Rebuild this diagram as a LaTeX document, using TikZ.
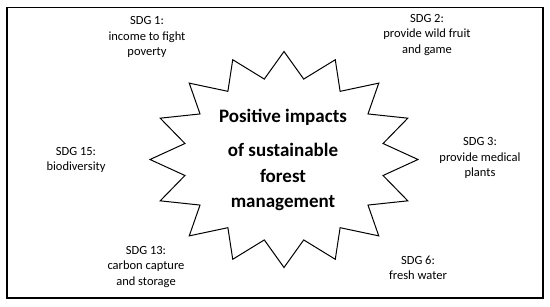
\documentclass[tikz,border=0pt]{standalone}
\usepackage{fontspec}
\setmainfont{Carlito}
\begin{document}
\begin{tikzpicture}[x=1bp,y=-1bp,
  lbl/.style={align=center,inner sep=0pt,font=\fontsize{12.5bp}{15.5bp}\selectfont},
  ctr/.style={align=center,inner sep=0pt,font=\fontsize{19bp}{25.5bp}\selectfont\bfseries},
  frame/.style={draw=black,line width=1.2bp},
  starline/.style={draw=black,line width=1bp,line join=miter}]
\useasboundingbox (0,0) rectangle (550,306);
\draw[frame] (7,7.5) rectangle (543,298);
\draw[starline] (284,51.5)
  \foreach \i in {1,...,31}{ -- ({284+ifthenelse(isodd(\i),101,134)*sin(\i*11.25)},{159.5-ifthenelse(isodd(\i),82,108)*cos(\i*11.25)}) } -- cycle;
\node[ctr] (c) at (283,160) {Positive impacts\\[8.5bp]of sustainable\\forest\\management};
\node[lbl] (s1) at (147,37) {SDG 1:\\income to fight\\poverty};
\node[lbl] (s2) at (427,35) {SDG 2:\\provide wild fruit\\and game};
\node[lbl] (s3) at (480,158) {SDG 3:\\provide medical\\plants};
\node[lbl] (s15) at (76,160) {SDG 15:\\biodiversity};
\node[lbl] (s6) at (418,268) {SDG 6:\\fresh water};
\node[lbl] (s13) at (146,267) {SDG 13:\\carbon capture\\and storage};
\end{tikzpicture}
\end{document}
